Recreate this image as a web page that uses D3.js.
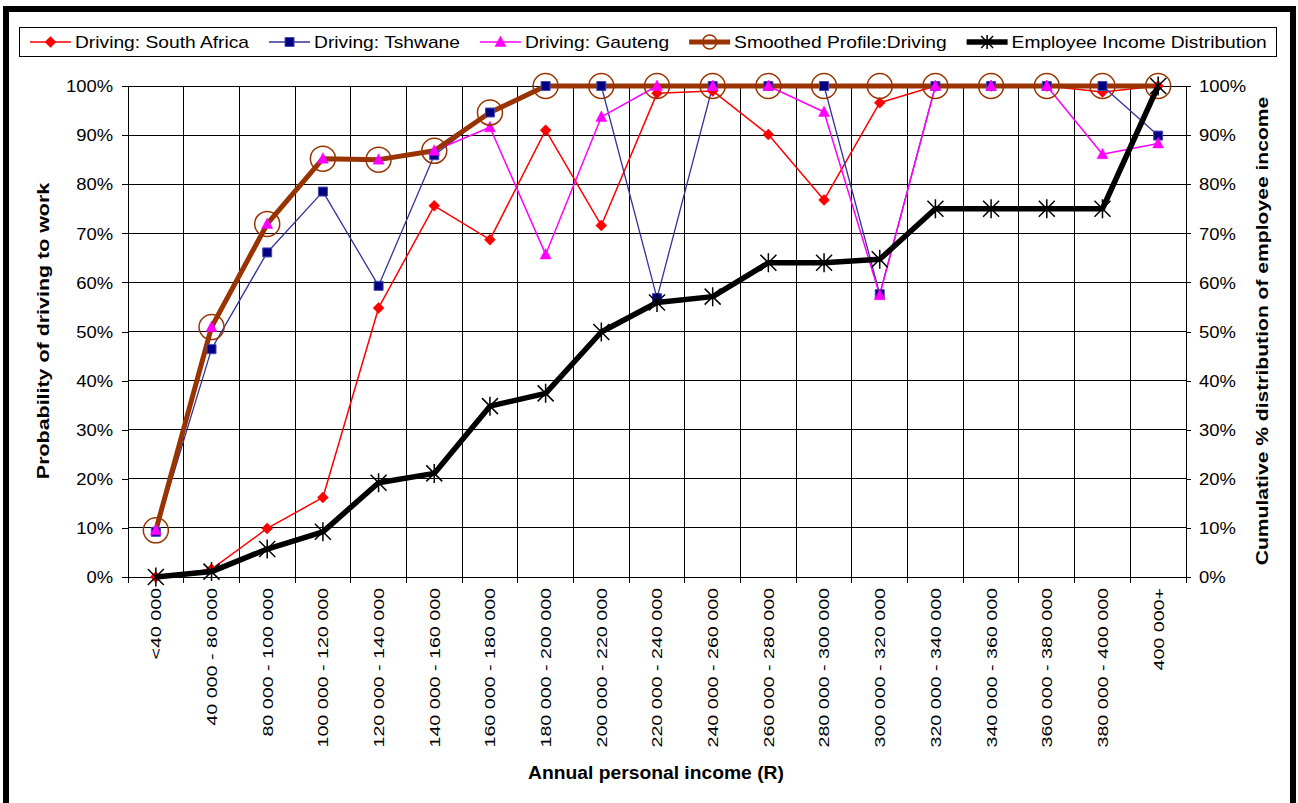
<!DOCTYPE html>
<html>
<head>
<meta charset="utf-8" />
<title>Driving probability by income</title>
<style>
html, body {
    margin: 0px;
    padding: 0px;
    background: #fff;
}
svg {
    display: block;
    font-family: "Liberation Sans", Arial, sans-serif;
}
</style>
</head>
<body>
<svg id="chart" width="1298" height="803"></svg>

<script src="https://d3js.org/d3.v7.min.js"></script>
<script>
// categories (annual personal income bands)
var categories = ["<40 000", "40 000 - 80 000", "80 000 - 100 000", "100 000 - 120 000",
    "120 000 - 140 000", "140 000 - 160 000", "160 000 - 180 000", "180 000 - 200 000",
    "200 000 - 220 000", "220 000 - 240 000", "240 000 - 260 000", "260 000 - 280 000",
    "280 000 - 300 000", "300 000 - 320 000", "320 000 - 340 000", "340 000 - 360 000",
    "360 000 - 380 000", "380 000 - 400 000", "400 000+"]

// series values, percent
var southAfrica = [0, 1.6, 9.9, 16.2, 54.8, 75.6, 68.7, 91.0, 71.6, 98.5, 99.0, 90.1, 76.8, 96.6, 100, 100, 100, 98.8, 100]
var tshwane     = [9.2, 46.4, 66.1, 78.5, 59.3, 85.9, 94.6, 100, 100, 56.8, 100, 100, 100, 57.6, 100, 100, 100, 100, 89.9]
var gauteng     = [9.5, 50.9, 71.9, 85.2, 85.0, 86.8, 91.6, 65.7, 93.7, 100, 100, 100, 94.7, 57.4, 100, 100, 100, 86.1, 88.3]
var smoothed    = [9.5, 50.9, 71.9, 85.2, 85.0, 86.8, 94.6, 100, 100, 100, 100, 100, 100, 100, 100, 100, 100, 100, 100]
var employee    = [0, 1.1, 5.7, 9.2, 19.2, 21.1, 34.8, 37.4, 49.9, 55.9, 57.1, 64.0, 64.0, 64.7, 75.0, 75.0, 75.0, 75.0, 100]

var yTicks = [0, 10, 20, 30, 40, 50, 60, 70, 80, 90, 100]

var legendNames = ["Driving: South Africa", "Driving: Tshwane", "Driving: Gauteng",
    "Smoothed Profile:Driving", "Employee Income Distribution"]

var svg = d3.select("#chart")
var plot = {left: 128, right: 1186, top: 86, bottom: 577}

var x = d3.scaleBand().domain(categories).range([plot.left, plot.right]).padding(0)
var y = d3.scaleLinear().domain([0, 100]).range([plot.bottom, plot.top])
var cx = function(i){ return x(categories[i]) + x.bandwidth() / 2 }

// stretch text to the width the original renderer used, returns new width
function stretch(sel, k) {
    var total = 0
    sel.each(function(){
        var w = this.getComputedTextLength() * k
        d3.select(this).attr("textLength", w).attr("lengthAdjust", "spacingAndGlyphs")
        total = w
    })
    return total
}

// outer frame
svg.append("rect")
    .attr("x", 6).attr("y", 9)
    .attr("width", 1287).attr("height", 805)
    .attr("fill", "none")
    .attr("stroke", "#000")
    .attr("stroke-width", 6)

// gridlines
var grid = svg.append("g").attr("shape-rendering", "crispEdges")
grid.selectAll(".hgrid")
    .data(yTicks.slice(1))
    .enter().append("line")
    .attr("x1", plot.left).attr("x2", plot.right)
    .attr("y1", function(d){ return y(d) }).attr("y2", function(d){ return y(d) })
    .attr("stroke", "#000")
grid.selectAll(".vgrid")
    .data(categories.slice(1))
    .enter().append("line")
    .attr("x1", function(d){ return x(d) }).attr("x2", function(d){ return x(d) })
    .attr("y1", plot.top).attr("y2", plot.bottom + 6)
    .attr("stroke", "#000")

// axes
var leftAxis = d3.axisLeft(y).tickValues(yTicks).tickSize(6).tickSizeOuter(0)
    .tickFormat(function(d){ return d + "%" })
var rightAxis = d3.axisRight(y).tickValues(yTicks).tickSize(5).tickSizeOuter(0)
    .tickFormat(function(d){ return d + "%" })

var gl = svg.append("g")
    .attr("transform", "translate(" + plot.left + ",0)")
    .attr("shape-rendering", "crispEdges")
    .call(leftAxis)
var gr = svg.append("g")
    .attr("transform", "translate(" + plot.right + ",0)")
    .attr("shape-rendering", "crispEdges")
    .call(rightAxis)
svg.selectAll(".domain, .tick line").attr("stroke", "#000")
svg.selectAll(".tick text")
    .attr("font-family", "Liberation Sans, Arial, sans-serif")
    .attr("font-size", 16)
    .attr("fill", "#000")
    .attr("dy", "0.36em")
gl.selectAll(".tick text").attr("x", -15)
gr.selectAll(".tick text").attr("x", 13)
stretch(svg.selectAll(".tick text"), 1.15)

// x axis line and ticks
svg.append("line")
    .attr("x1", plot.left).attr("x2", plot.right)
    .attr("y1", plot.bottom).attr("y2", plot.bottom)
    .attr("stroke", "#000").attr("shape-rendering", "crispEdges")
svg.selectAll(".xtick")
    .data([plot.left, plot.right])
    .enter().append("line")
    .attr("x1", function(d){ return d }).attr("x2", function(d){ return d })
    .attr("y1", plot.bottom).attr("y2", plot.bottom + 6)
    .attr("stroke", "#000").attr("shape-rendering", "crispEdges")

var xl = svg.append("g").selectAll("text")
    .data(categories)
    .enter().append("text")
    .attr("transform", function(d, i){ return "translate(" + cx(i) + "," + (plot.bottom + 11) + ") rotate(-90)" })
    .attr("text-anchor", "end")
    .attr("dy", "0.36em")
    .attr("font-size", 15)
    .text(function(d){ return d })
stretch(xl, 1.31)

// axis titles
var xt = svg.append("text")
    .attr("x", 656).attr("y", 779)
    .attr("text-anchor", "middle")
    .attr("font-size", 18).attr("font-weight", "bold")
    .text("Annual personal income (R)")
stretch(xt, 1.07)
var lt = svg.append("text")
    .attr("transform", "translate(49,331) rotate(-90)")
    .attr("text-anchor", "middle")
    .attr("font-size", 17).attr("font-weight", "bold")
    .text("Probability of driving to work")
stretch(lt, 1.26)
var rt = svg.append("text")
    .attr("transform", "translate(1268,331) rotate(-90)")
    .attr("text-anchor", "middle")
    .attr("font-size", 17).attr("font-weight", "bold")
    .text("Cumulative % distribution of employee income")
stretch(rt, 1.24)

// markers
var diamond = "M0,-5.5L5.5,0L0,5.5L-5.5,0Z"
var square = "M-4.5,-4.5H4.5V4.5H-4.5Z"
var triangle = "M0,-6L5.5,4.5H-5.5Z"
var star = "M-8,-8L8,8M-8,8L8,-8M0,-9.5V9.5"

var series = [
    {name: legendNames[0], values: southAfrica, line: "#ff0000", width: 1.5, mark: diamond, fill: "#ff0000", stroke: "#ff0000", mw: 0.5},
    {name: legendNames[1], values: tshwane, line: "#333399", width: 1.3, mark: square, fill: "#000080", stroke: "#4848b0", mw: 1},
    {name: legendNames[2], values: gauteng, line: "#ff00ff", width: 1.5, mark: triangle, fill: "#ff00ff", stroke: "#ff00ff", mw: 0.5},
    {name: legendNames[3], values: smoothed, line: "#993300", width: 5, mark: "circle", fill: "none", stroke: "#993300", mw: 1.5},
    {name: legendNames[4], values: employee, line: "#000", width: 5.5, mark: star, fill: "none", stroke: "#000", mw: 1.5}
]

var lineGen = d3.line()
    .x(function(d, i){ return cx(i) })
    .y(function(d){ return y(d) })

function drawMark(g, s, px, py, r) {
    if (s.mark === "circle") {
        g.append("circle").attr("cx", px).attr("cy", py).attr("r", r)
            .attr("fill", "none").attr("stroke", s.stroke).attr("stroke-width", s.mw)
    } else {
        g.append("path").attr("d", s.mark)
            .attr("transform", "translate(" + px + "," + py + ")")
            .attr("fill", s.fill).attr("stroke", s.stroke).attr("stroke-width", s.mw)
    }
}

function drawSeries(list) {
    var g = svg.append("g")
    list.forEach(function(s){
        g.append("path")
            .datum(s.values)
            .attr("d", lineGen)
            .attr("fill", "none")
            .attr("stroke", s.line)
            .attr("stroke-width", s.width)
            .attr("stroke-linejoin", "round")
    })
    list.forEach(function(s){
        var mg = g.append("g")
        s.values.forEach(function(v, i){ drawMark(mg, s, cx(i), y(v), 12.5) })
    })
}
drawSeries(series.slice(0, 4))
drawSeries(series.slice(4))

// legend
var lg = svg.append("g")
lg.append("rect")
    .attr("x", 19.5).attr("y", 27.5)
    .attr("width", 1257).attr("height", 29)
    .attr("fill", "#fff").attr("stroke", "#000")
var lx = 30
series.forEach(function(s, i){
    lg.append("line")
        .attr("x1", lx).attr("x2", lx + 41)
        .attr("y1", 42).attr("y2", 42)
        .attr("stroke", s.line).attr("stroke-width", s.width)
    var ms = s.mark === star ? "M-6,-6L6,6M-6,6L6,-6M0,-7V7" : s.mark
    drawMark(lg, {mark: ms, fill: s.fill, stroke: s.stroke, mw: s.mw}, lx + 20.5, 42, 7)
    var t = lg.append("text")
        .attr("x", lx + 45).attr("y", 48)
        .attr("font-size", 17)
        .text(s.name)
    var w = stretch(t, 1.13)
    lx = lx + 45 + w + 20
})
</script>
</body>
</html>
